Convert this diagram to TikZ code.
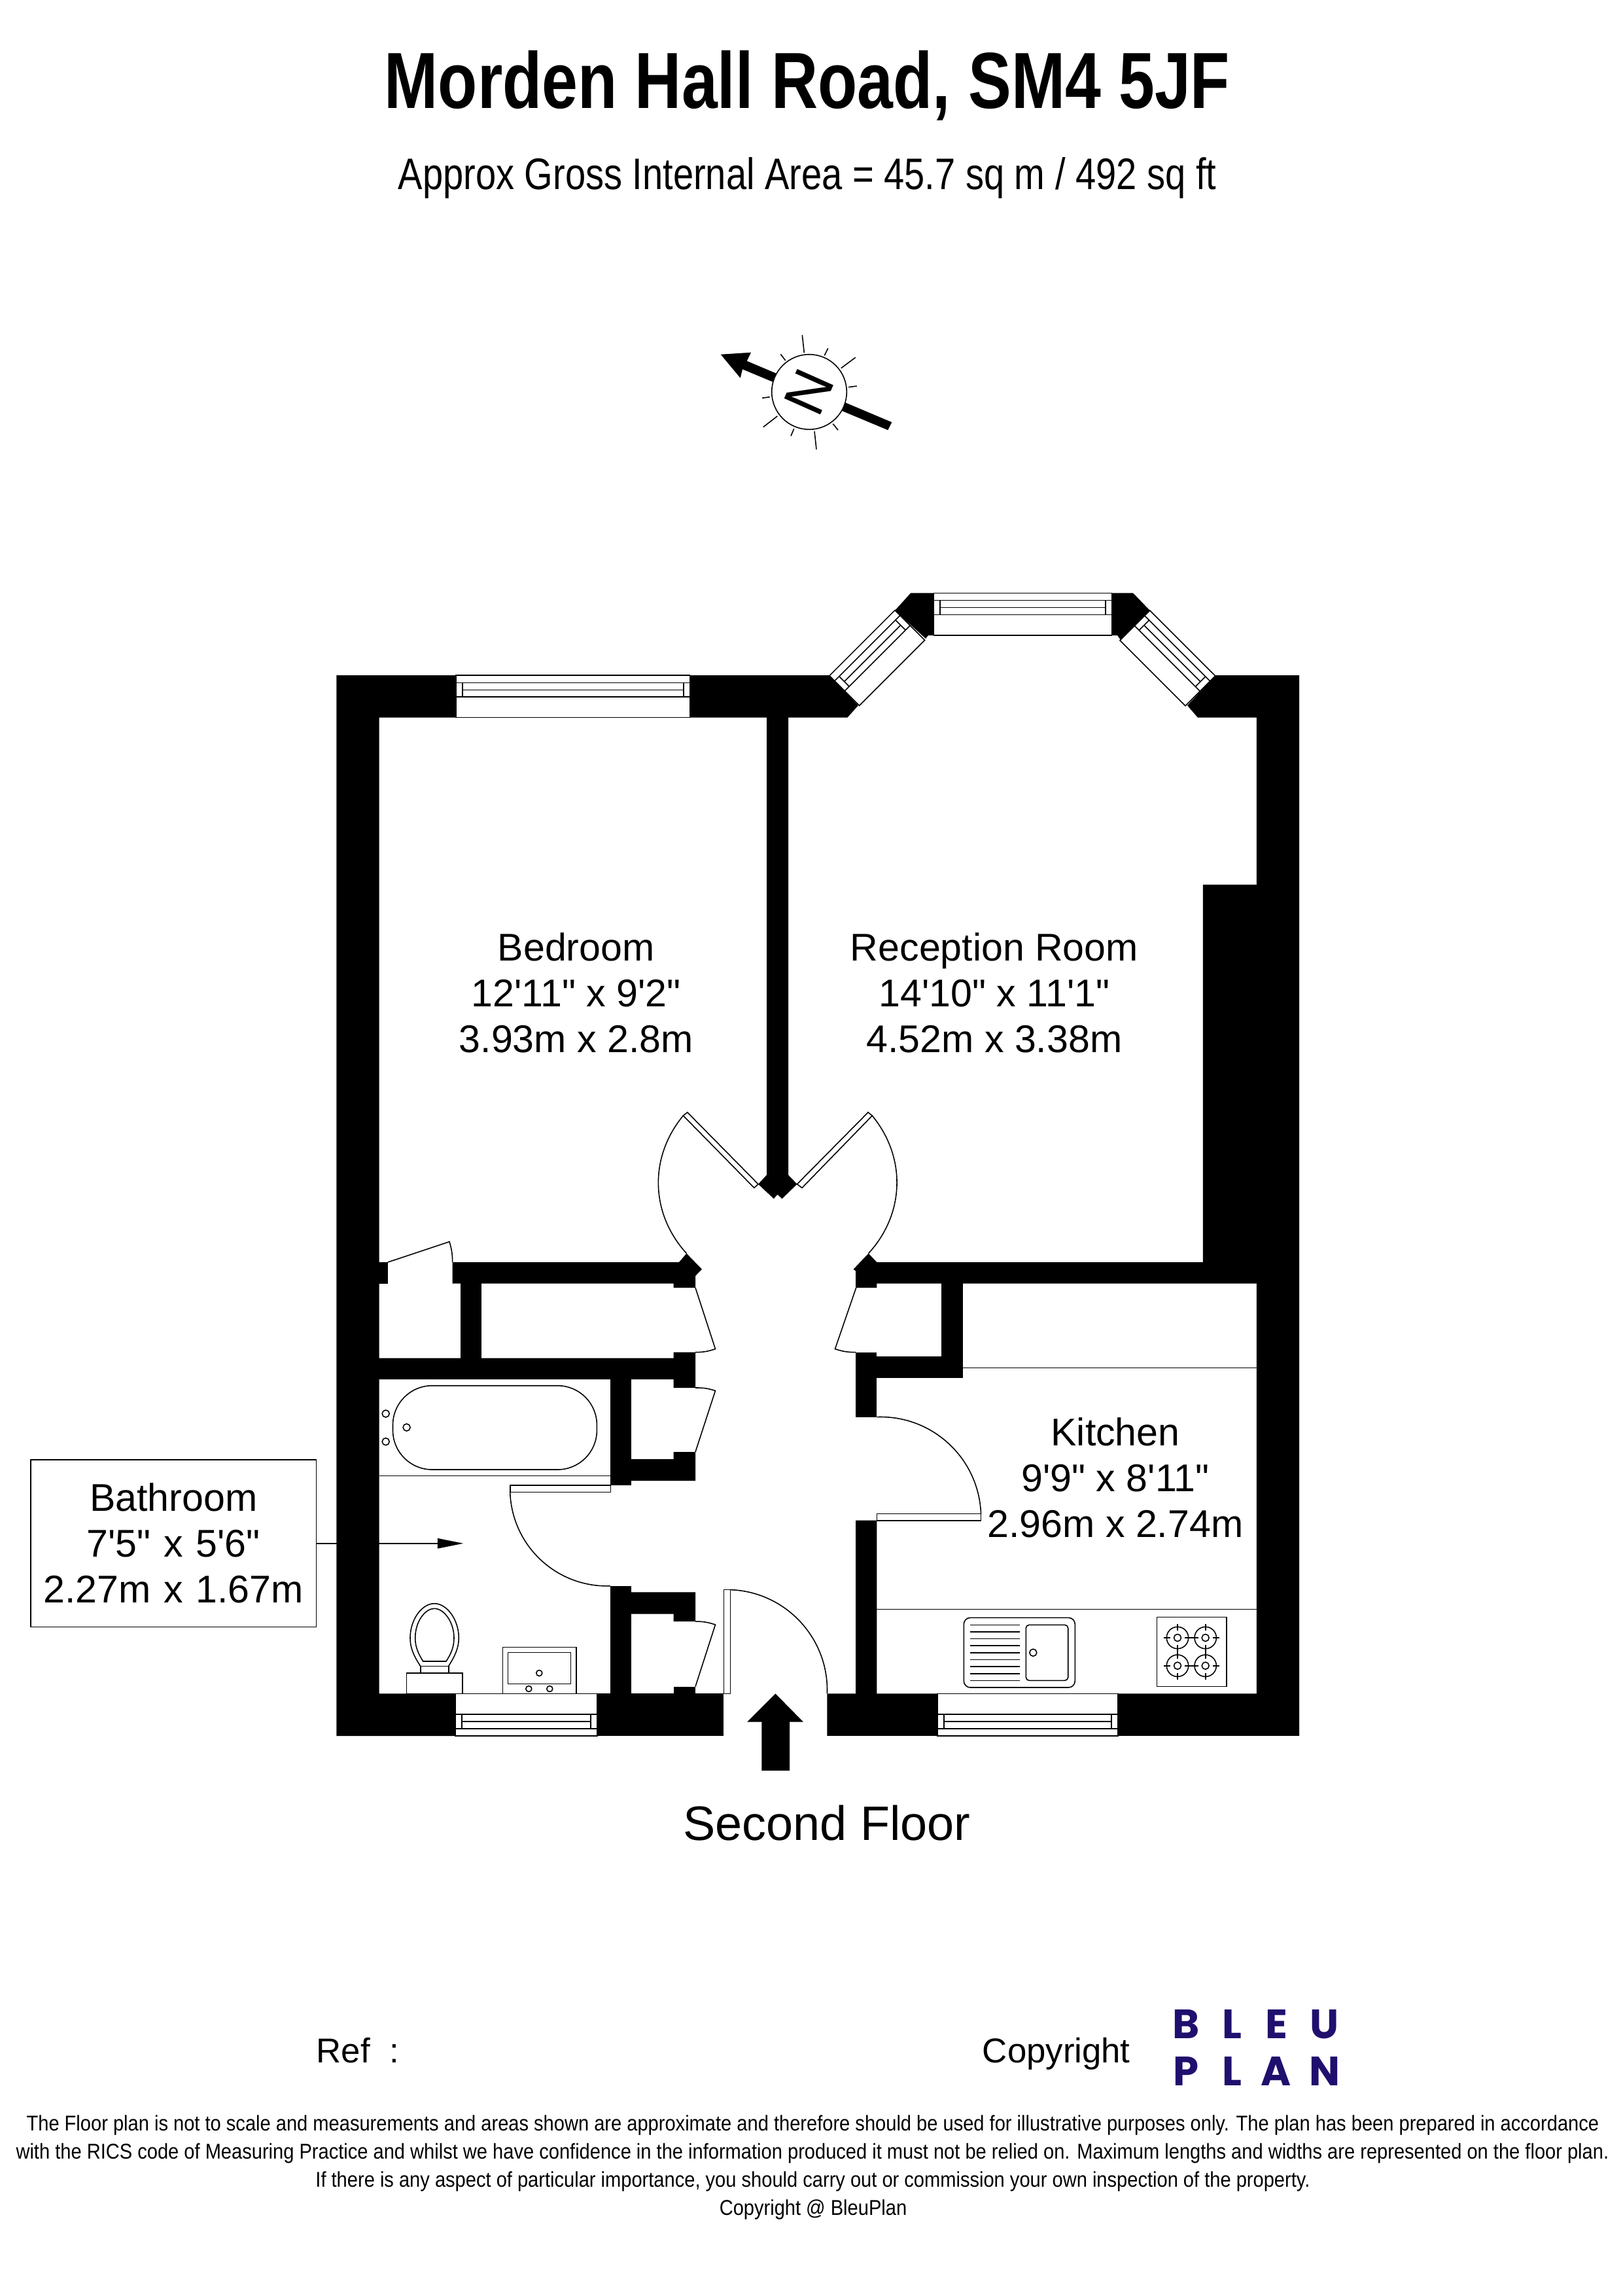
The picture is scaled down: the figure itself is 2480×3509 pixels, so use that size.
\documentclass[tikz,border=0pt]{standalone}
\usepackage{fontspec}
\usepackage{xcolor}
\usetikzlibrary{arrows.meta}
\setmainfont{Liberation Sans}[Ligatures=TeXOff]
\newfontfamily\titlefont{Liberation Sans}[FakeStretch=0.81,Ligatures=TeXOff]
\newfontfamily\narrowfont{Liberation Sans}[FakeStretch=0.83,Ligatures=TeXOff]
\newfontfamily\footfont{Liberation Sans}[FakeStretch=0.889,Ligatures=TeXOff]
\newfontfamily\logofont{Poppins}
\definecolor{bleuindigo}{RGB}{33,15,110}
\tikzset{
    thinline/.style={line width=0.45pt},
    roomlabel/.style={align=center,inner sep=0pt,font=\fontsize{16.8}{19.9}\selectfont},
    plainlabel/.style={anchor=base,inner sep=0pt},
    footline/.style={plainlabel,font=\footfont\fontsize{9.3}{11}\selectfont},
    logoletter/.style={inner sep=0pt,text=bleuindigo,font=\logofont\bfseries\fontsize{17.8}{20}\selectfont}
}
% one window: outer corner, rotation, length
\newcommand{\windowunit}[4]{%
    \begin{scope}[shift={(#1,#2)},rotate=#3]
        \draw[thinline,fill=white] (0,0) rectangle (#4,64.6);
        \draw[thinline] (0,11.3) -- (#4,11.3);
        \draw[thinline] (0,33) -- (#4,33);
        \draw[thinline] (9.8,22.3) -- (#4-9.8,22.3);
        \draw[thinline] (9.8,11.3) -- (9.8,33);
        \draw[thinline] (#4-9.8,11.3) -- (#4-9.8,33);
    \end{scope}}
\begin{document}
\begin{tikzpicture}[x=0.01cm,y=-0.01cm]
    \useasboundingbox (0,0) rectangle (2480,3509);
    % headings
    \node[plainlabel,font=\titlefont\bfseries\fontsize{34.6}{40}\selectfont] (title) at (1234,166) {Morden Hall Road, SM4 5JF};
    \node[plainlabel,font=\narrowfont\fontsize{19.2}{22}\selectfont] (area) at (1234,290) {Approx Gross Internal Area = 45.7 sq m / 492 sq ft};
    % compass
    \fill (1101.7,541.7) -- (1148,538.7) -- (1141.7,551.7) -- (1363.3,645.3) -- (1357.3,657.3) -- (1135,564.3) -- (1131.7,577.7) -- cycle;
    \draw[thinline,fill=white] (1237,599) circle (57.3);
    \node[inner sep=0pt,rotate=66,font=\fontsize{25}{25}\selectfont] (compassn) at (1237,599) {N};
    \begin{scope}[shift={(1237,599)}]
        \foreach \xa/\ya/\xb/\yb in {-7.7/-59.7/-10.7/-87,23.3/-55.7/28.7/-66.7,48.7/-36.3/70.7/-52.7,60/-7.3/72.7/-9,36.3/48.7/44/58.3,8/60.3/11/87.7,-23.3/56.3/-28/67.3,-48.7/37/-70.3/53.7,-60.3/7.7/-72/9.3,-36.3/-48/-43.7/-57.7}
            \draw[thinline] (\xa,\ya) -- (\xb,\yb);
    \end{scope}
    % bathroom label, its line runs under the wall
    \node[draw,thinline,roomlabel,minimum width=4.364cm,minimum height=2.556cm,text width=4.3cm] (bathroomlabel) at (265.2,2358.8) {Bathroom\\7'5" x 5'6"\\2.27m x 1.67m};
    \coordinate (bathroomtip) at (708.3,2358.8);
    \draw[thinline,-{Triangle[length=0.395cm,width=0.154cm]}] (bathroomlabel) -- (bathroomtip);
    % outer walls
    \fill (514.3,1032) -- (697,1032) -- (697,1096.7) -- (579.5,1096.7) -- (579.5,2588.4) -- (696,2588.4) -- (696,2653) -- (514.3,2653) -- cycle;
    \fill (1054.6,1032) -- (1267.9,1032) -- (1311.9,1078.2) -- (1295.3,1096.7) -- (1054.6,1096.7) -- cycle;
    \fill (1392.2,906.3) -- (1427.3,906.3) -- (1427.3,971) -- (1419,971) -- (1415,976) -- (1368,933) -- cycle;
    \fill (1699.6,906.3) -- (1732,906.3) -- (1757.7,933) -- (1713,978) -- (1708,971) -- (1699.6,971) -- cycle;
    \fill (1857.8,1032) -- (1986,1032) -- (1986,2652.8) -- (1708.7,2652.8) -- (1708.7,2588.4) -- (1920.9,2588.4) -- (1920.9,1961.5) -- (1340.3,1961.5) -- (1340.3,1968) -- (1308,1968) -- (1308,1942.3) -- (1304.6,1939.8) -- (1327.6,1915.6) -- (1340.3,1929) -- (1838.8,1929) -- (1838.8,1352) -- (1920.9,1352) -- (1920.9,1096.7) -- (1831,1096.7) -- (1815,1078.2) -- cycle;
    \fill (913,2588.4) rectangle (1106.3,2652.8);
    \fill (1264.4,2588.4) -- (1308.2,2588.4) -- (1308.2,2323.7) -- (1340.3,2323.7) -- (1340.3,2588.4) -- (1433.2,2588.4) -- (1433.2,2652.8) -- (1264.4,2652.8) -- cycle;
    % inner walls
    \fill (1172,1096) -- (1205,1096) -- (1205,1795.7) -- (1218.5,1809.7) -- (1195.5,1832) -- (1188.5,1825.6) -- (1182.8,1832) -- (1159,1809.7) -- (1172,1795.7) -- cycle;
    \fill (579,1929) rectangle (592.9,1961.5);
    \fill (691.7,1929) -- (1038,1929) -- (1049.5,1915.6) -- (1073,1939.8) -- (1063,1950) -- (1063,1968) -- (1029.7,1968) -- (1029.7,1961.5) -- (691.7,1961.5) -- cycle;
    \fill (703.9,1961) rectangle (736.4,2076);
    \fill (579,2075.6) -- (1029.7,2075.6) -- (1029.7,2066.7) -- (1063,2066.7) -- (1063,2121) -- (1029.7,2121) -- (1029.7,2108) -- (579,2108) -- cycle;
    \fill (932.8,2108) rectangle (965.3,2270);
    \fill (965,2230) -- (1029.7,2230) -- (1029.7,2219) -- (1063,2219) -- (1063,2263) -- (965,2263) -- cycle;
    \fill (932.8,2423.8) rectangle (965.3,2589);
    \fill (965,2433.4) -- (1063,2433.4) -- (1063,2478) -- (1029.7,2478) -- (1029.7,2466.6) -- (965,2466.6) -- cycle;
    \fill (1029.7,2577.6) rectangle (1063,2589);
    \fill (1308.2,2066.7) rectangle (1340.3,2165.6);
    \fill (1340,2073) rectangle (1472.4,2105.6);
    \fill (1439.3,1961) rectangle (1472.4,2106);
    % windows
    \foreach \wx/\wy/\wrot/\wlen in {697/1032/0/357.6,1427.3/906.3/0/272.3,1267.9/1032.7/45/141.4,1757.7/933/-45/141.4,913/2653/180/217,1708.7/2653/180/275.5}
        \windowunit{\wx}{\wy}{\wrot}{\wlen};
    % doors
    \draw[thinline,fill=white] (1044.4,1705) -- (1050.8,1700) -- (1159,1809.7) -- (1152.8,1815.4) -- cycle;
    \draw[thinline] (1044.4,1705) to[bend right=41] (1049.5,1915.6);
    \draw[thinline,fill=white] (1333.3,1705.1) -- (1327,1700) -- (1218.5,1809.7) -- (1226,1815.4) -- cycle;
    \draw[thinline] (1333.3,1705.1) to[bend left=41] (1327.6,1915.6);
    \draw[thinline] (592.9,1929) -- (687,1897.7) to[bend left=8] (691.7,1929);
    \draw[thinline] (1063,1968) -- (1093.5,2061.6) to[bend left=9] (1063,2066.7);
    \draw[thinline] (1063,2121) to[bend left=9] (1093.5,2125.4) -- (1063,2219);
    \draw[thinline] (1063,2478) to[bend left=9] (1093.5,2483) -- (1063,2577.6);
    \draw[thinline] (1308.7,1968) -- (1276.5,2061.6) to[bend right=9] (1308.2,2066.7);
    \draw[thinline] (779.7,2270) rectangle (933.4,2280.4);
    \draw[thinline] (779.7,2280.4) to[bend right=45] (932.8,2423.8);
    \draw[thinline] (1106.3,2429.6) rectangle (1116.5,2588.4);
    \draw[thinline] (1116.5,2429.6) to[bend left=45] (1264.4,2588.4);
    \draw[thinline] (1340.3,2313.5) rectangle (1499.5,2323.7);
    \draw[thinline] (1340.3,2165.6) to[bend left=45] (1499.5,2313.5);
    % entrance arrow
    \fill (1185.4,2588.4) -- (1228,2631.7) -- (1207,2631.7) -- (1207,2706) -- (1164.3,2706) -- (1164.3,2631.7) -- (1142,2631.7) -- cycle;
    % bathroom fittings
    \draw[thinline] (579.5,2255.5) -- (932.8,2255.5);
    \draw[thinline,rounded corners=0.6cm] (600.5,2117.7) rectangle (912.4,2246);
    \foreach \tx/\ty in {589.7/2160.5,589.7/2203.2,621.6/2181.5}
        \draw[thinline] (\tx,\ty) circle (5.5);
    \draw[thinline] (621.7,2588.4) rectangle (706.7,2557);
    \draw[thinline] (642.7,2557) -- (642.7,2546.3) -- (685.7,2546.3) -- (685.7,2557);
    \draw[thinline] (642.7,2546.3) .. controls (632,2530) and (627,2518) .. (627,2503.3) .. controls (627,2475) and (645,2450.7) .. (664,2450.7) .. controls (683,2450.7) and (701.3,2475) .. (701.3,2503.3) .. controls (701.3,2518) and (696,2530) .. (685.7,2546.3);
    \draw[thinline] (646.7,2539) .. controls (640,2528) and (634.7,2518) .. (634.7,2503.3) .. controls (634.7,2478) and (650,2458.3) .. (664,2458.3) .. controls (678,2458.3) and (694,2478) .. (694,2503.3) .. controls (694,2518) and (689,2528) .. (682,2539) -- cycle;
    \draw[thinline] (768.3,2588.4) rectangle (880.7,2517.3);
    \draw[thinline] (776.3,2525.3) rectangle (872.3,2573.3);
    \foreach \tx/\ty in {824.3/2557,808.3/2581,840.3/2581}
        \draw[thinline] (\tx,\ty) circle (4.5);
    % kitchen fittings
    \draw[thinline] (1472.4,2090.3) -- (1920.9,2090.3);
    \draw[thinline] (1340.3,2459.6) -- (1920.9,2459.6);
    \draw[thinline,rounded corners=0.1cm] (1473.3,2472.3) rectangle (1643.3,2579);
    \draw[thinline,rounded corners=0.05cm] (1568.3,2483.3) rectangle (1632.7,2568.3);
    \foreach \ly in {2483.3,2493.9,2504.5,2515.2,2525.8,2536.4,2547,2557.7,2568.3}
        \draw[thinline] (1483.3,\ly) -- (1558.7,\ly);
    \draw[thinline] (1579.3,2525.7) circle (5.5);
    \draw[thinline] (1768.3,2471.3) rectangle (1874.7,2577.3);
    \foreach \bx/\by in {1800/2503,1842.7/2503,1800/2545.7,1842.7/2545.7} {
        \draw[thinline] (\bx,\by) circle (16.7);
        \draw[thinline] (\bx,\by) circle (5.5);
        \draw[thinline] (\bx-21.3,\by) -- (\bx-11,\by);
        \draw[thinline] (\bx+21.3,\by) -- (\bx+11,\by);
        \draw[thinline] (\bx,\by-21.3) -- (\bx,\by-11);
        \draw[thinline] (\bx,\by+21.3) -- (\bx,\by+11);
    }
    % room labels
    \node[roomlabel] (bedroom) at (880.7,1517) {Bedroom\\12'11" x 9'2"\\3.93m x 2.8m};
    \node[roomlabel] (reception) at (1520,1517) {Reception Room\\14'10" x 11'1"\\4.52m x 3.38m};
    \node[roomlabel] (kitchen) at (1705,2258) {Kitchen\\9'9" x 8'11"\\2.96m x 2.74m};
    \node[plainlabel,font=\fontsize{21}{24}\selectfont] (floorname) at (1264,2812) {Second Floor};
    % footer
    \node[plainlabel,anchor=base west,font=\fontsize{15}{18}\selectfont] (reference) at (483,3152.3) {Ref\ \ :};
    \node[plainlabel,font=\fontsize{15}{18}\selectfont] (copyright) at (1614.8,3152.3) {Copyright};
    \foreach \letter/\lx/\ly in {B/1813/3093.6,L/1883.6/3093.6,E/1951/3093.6,U/2025/3093.6,P/1813/3165,L/1883/3165,A/1951/3165,N/2025/3165}
        \node[logoletter] (logo\letter\lx) at (\lx,\ly) {\letter};
    \node[footline] (foota) at (1242.5,3256) {The Floor plan is not to scale and measurements and areas shown are approximate and therefore should be used for illustrative purposes only. The plan has been prepared in accordance};
    \node[footline] (footb) at (1242,3299) {with the RICS code of Measuring Practice and whilst we have confidence in the information produced it must not be relied on. Maximum lengths and widths are represented on the floor plan.};
    \node[footline] (footc) at (1242.5,3342) {If there is any aspect of particular importance, you should carry out or commission your own inspection of the property.};
    \node[footline] (footd) at (1243,3385) {Copyright @ BleuPlan};
\end{tikzpicture}
\end{document}
